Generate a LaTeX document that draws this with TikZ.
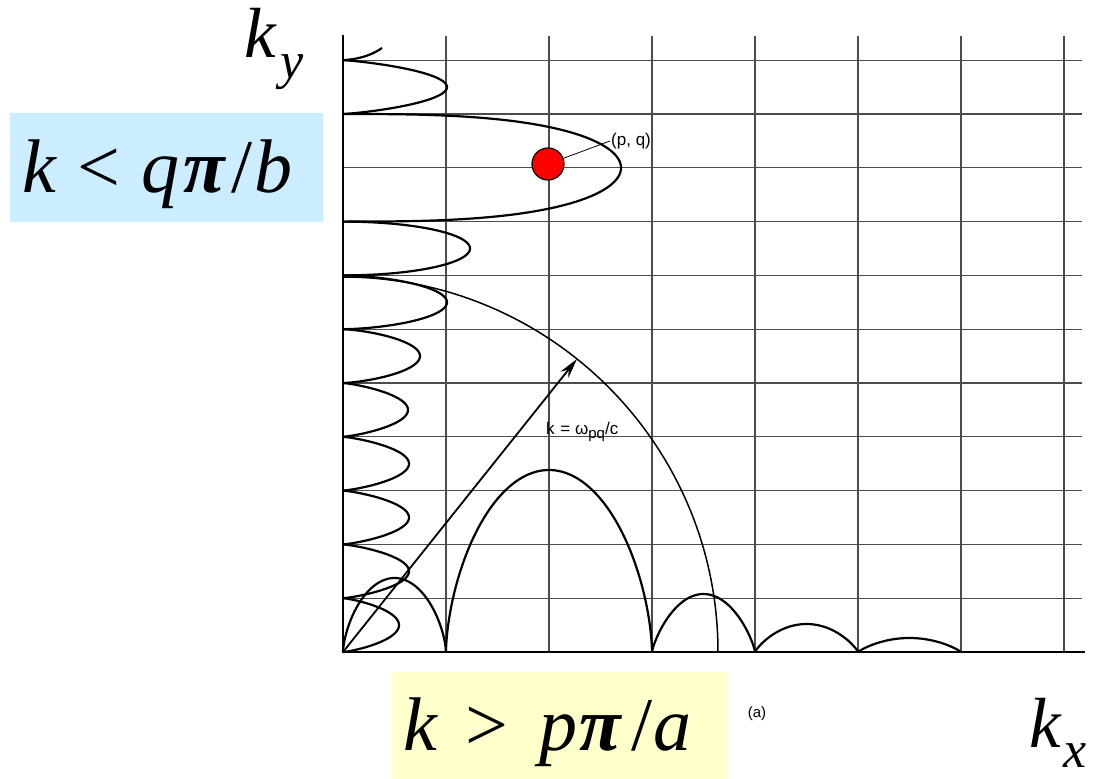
\documentclass[tikz,border=0pt]{standalone}
\usepackage{fontspec}
\setmainfont{Liberation Serif}
\newfontfamily\labelsans{Liberation Sans}
\usetikzlibrary{arrows.meta}
\definecolor{boxblue}{HTML}{CCECFF}
\definecolor{boxyellow}{HTML}{FFFFCC}
% sideways lobe on the k_y axis: top y, bottom y, width, exponent
\newcommand{\sidelobe}[4]{%
  \draw[curve] (343,#1) -- plot[domain=0.3:179.7, samples=90, variable=\s]
    ({343+#3*pow(sin(\s),2*#4)}, {(#1+#2)/2-(#2-#1)/2*cos(\s)}) -- (343,#2);}
% arch on the k_x axis: left x, right x, height, exponent
\newcommand{\basearch}[4]{%
  \draw[curve] (#1,652) -- plot[domain=0.3:179.7, samples=90, variable=\s]
    ({(#1+#2)/2-(#2-#1)/2*cos(\s)}, {652-#3*pow(sin(\s),2*#4)}) -- (#2,652);}
\begin{document}
\begin{tikzpicture}[x=1pt,y=-1pt,
  gridline/.style={line width=1.1pt, black!70},
  axisline/.style={line width=1.8pt, black},
  curve/.style={line width=2.2pt, black, line join=round},
  circarc/.style={line width=1.5pt, black},
  arrowline/.style={line width=1.8pt, black, -{Stealth[length=20pt,width=10pt]}},
  leader/.style={line width=0.8pt, black},
  dot/.style={circle, fill=red, draw=black, line width=1.2pt, minimum size=32pt, inner sep=0pt},
  smalltext/.style={font=\labelsans\fontsize{17}{19}\selectfont, inner sep=1pt},
  bigmath/.style={font=\fontsize{71}{75}\selectfont, inner sep=0pt},
  mathbox/.style={font=\fontsize{76}{80}\selectfont, inner ysep=0pt, align=left}
]
\useasboundingbox (0,0) rectangle (1093,779);
% grid
\foreach \gx in {446,549,652,755,858,961,1064} \draw[gridline] (\gx,36) -- (\gx,652);
\foreach \gy in {60.2,114,167.8,221.6,275.4,329.2,383,436.8,490.6,544.4,598.2}
  \draw[gridline] (343,\gy) -- (1082,\gy);
\coordinate (O) at (343,652);
\coordinate (Ytop) at (343,35);
\coordinate (Xend) at (1085,652);
\draw[axisline] (Ytop) -- (O) -- (Xend);
% lobes along k_y
\sidelobe{598.2}{652}{56}{0.8}
\sidelobe{544.4}{598.2}{66}{0.8}
\sidelobe{490.6}{544.4}{66}{0.8}
\sidelobe{436.8}{490.6}{66}{0.8}
\sidelobe{383}{436.8}{65}{0.8}
\sidelobe{329.2}{383}{77}{0.7}
\sidelobe{275.4}{329.2}{104}{0.6}
\sidelobe{221.6}{275.4}{127}{0.5}
\sidelobe{114}{221.6}{278}{0.35}
\sidelobe{60.2}{114}{104}{0.8}
\draw[curve] (343,60.2) .. controls (360,59) and (372,55) .. (382,48);
% arches along k_x
\basearch{343}{446}{74}{0.65}
\basearch{446}{652}{182}{0.6}
\basearch{652}{755}{58}{0.8}
\basearch{755}{858}{28}{0.85}
\basearch{858}{961}{14}{0.9}
% circle k = omega/c
\draw[circarc] (718,652) arc[start angle=0, end angle=-90, radius=375];
\coordinate (T) at (577,359);
\draw[arrowline] (O) -- (T);
\node[smalltext, anchor=base west] (klabel) at (545,434)
  {k\hspace{1pt} = ω\raisebox{-4pt}{\labelsans\fontsize{15}{15}\selectfont pq}/c};
% mode point
\node[dot] (pq) at (548,164) {};
\node[smalltext, anchor=west] (pqlabel) at (610,141) {(p, q)};
\draw[leader] (pq) -- (pqlabel.west);
\node[smalltext, font=\labelsans\fontsize{15}{16}\selectfont] (alabel) at (757,714) {(a)};
% axis labels
\node[bigmath, anchor=base west] (ky) at (244,57)
  {\textit{k}\hspace{4pt}\raisebox{-21pt}{\fontsize{52}{52}\selectfont\textit{y}}};
\node[bigmath, anchor=base west] (kx) at (1029,747)
  {\textit{k}\hspace{2pt}\raisebox{-20pt}{\fontsize{52}{52}\selectfont\textit{x}}};
% condition boxes
\node[mathbox, fill=boxblue, inner xsep=12pt, text width=289pt,
      text height=79pt, text depth=30pt, anchor=north west] (qbox) at (10,113)
  {\textit{k}\hspace{20pt}<\hspace{22pt}\textit{q}\hspace{4pt}{\bfseries\itshape π}\hspace{6pt}/\hspace{2pt}\textit{b}};
\node[mathbox, fill=boxyellow, inner xsep=11pt, text width=313pt,
      text height=78pt, text depth=29pt, anchor=north west] (pbox) at (392,672)
  {\textit{k}\hspace{27pt}>\hspace{32pt}\textit{p}\hspace{2pt}{\bfseries\itshape π}\hspace{10pt}/\hspace{1pt}\textit{a}};
\end{tikzpicture}
\end{document}
